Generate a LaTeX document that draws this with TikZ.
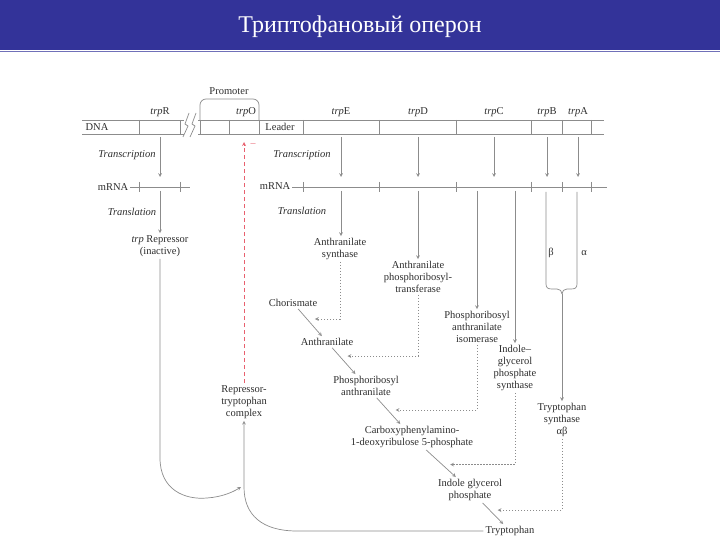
\documentclass[tikz,border=0pt]{standalone}
\usepackage{fontspec}
\setmainfont{Liberation Serif}
\usetikzlibrary{calc, positioning}

\definecolor{slideblue}{RGB}{51,51,153}
\definecolor{linegray}{RGB}{140,140,140}
\definecolor{textgray}{RGB}{45,45,45}
\definecolor{inhibred}{RGB}{232,96,110}

\begin{document}
\begin{tikzpicture}[x=1pt, y=-1pt, >=stealth,
  lbl/.style={font=\fontsize{10.5}{12}\selectfont, text=textgray, inner sep=2pt, align=center},
  proc/.style={lbl, font=\fontsize{10.5}{12}\selectfont\itshape},
  gene/.style={draw=linegray, line width=0.7pt},
  flow/.style={->, draw=linegray, line width=0.7pt},
  feed/.style={->, draw=linegray, line width=0.7pt, dash pattern=on 1.5pt off 1.5pt},
  repress/.style={->, draw=inhibred, line width=0.8pt, dash pattern=on 4pt off 3pt}]

  \useasboundingbox (0,0) rectangle (720,540);
  % title bar
  \fill[slideblue] (0,0) rectangle (720,50);
  \draw[slideblue!70, line width=1pt] (0,51.5) -- (720,51.5);
  \node[text=white, font=\fontsize{24}{28}\selectfont] (title) at (360,27) {Триптофановый оперон};

  % DNA strand with gene borders
  \draw[gene] (82,120) -- (184,120) (198,120) -- (604,120);
  \draw[gene] (82,134) -- (184,134) (198,134) -- (604,134);
  \foreach \x in {139,180,200,229,259,303,379,456,531,562,591}
    \draw[gene] (\x,120) -- (\x,134);
  % break in the strand
  \foreach \x in {186,193}
    \draw[gene] (\x+3,113) -- (\x-1,124) -- (\x+2,126) -- (\x-3,137);
  % promoter
  \draw[gene, rounded corners=6pt] (200,120) -- (200,99) -- (259,99) -- (259,120);
  \node[lbl] (prom) at (229,91) {Promoter};
  \node[lbl] (dna) at (97,127) {DNA};
  \node[lbl] (leader) at (280,127) {Leader};
  \foreach \n/\x in {R/160, O/246, E/341, D/418, C/494, B/547, A/578}
    \node[lbl] (trp\n) at (\x,112) {\textit{trp}\n};

  % mRNA
  \coordinate (dnab) at (0,137);
  \coordinate (mrnat) at (0,177);
  \coordinate (mrnab) at (0,191);
  \coordinate (mLend) at (190,187);
  \coordinate (mRend) at (607,187);
  \node[lbl] (mrnaL) at (113,187) {mRNA};
  \node[lbl] (mrnaR) at (275,186) {mRNA};
  \draw[gene] (mrnaL.east) -- (mLend);
  \draw[gene] (mrnaR.east |- mRend) -- (mRend);
  \foreach \x in {139,180,303,379,456,531,562,591}
    \draw[gene] (\x,182) -- (\x,192);

  % transcription
  \node[proc] (txL) at (127,155) {Transcription};
  \node[proc] (txR) at (302,155) {Transcription};
  \foreach \n in {R,E,D,C,B,A}
    \draw[flow] (trp\n |- dnab) -- (trp\n |- mrnat);

  % translation products
  \node[proc] (tlL) at (132,212) {Translation};
  \node[proc] (tlR) at (302,211) {Translation};
  \node[lbl] (rep) at (160,246) {\textit{trp} Repressor\\(inactive)};
  \node[lbl] (asyn) at (340,249) {Anthranilate\\synthase};
  \node[lbl] (aprt) at (418,277) {Anthranilate\\phosphoribosyl-\\transferase};
  \node[lbl] (prai) at (477,327) {Phosphoribosyl\\anthranilate\\isomerase};
  \node[lbl] (igps) at (515,368) {Indole–\\glycerol\\phosphate\\synthase};
  \node[lbl] (trpsyn) at (562,420) {Tryptophan\\synthase\\αβ};
  \draw[flow] (trpR |- mrnab) -- (trpR |- rep.north);
  \draw[flow] (trpE |- mrnab) -- (trpE |- asyn.north);
  \draw[flow] (trpD |- mrnab) -- (trpD |- aprt.north);
  \draw[flow] (prai.north |- mrnab) -- (prai.north);
  \draw[flow] (igps.north |- mrnab) -- (igps.north);

  % alpha and beta chains joined by a brace
  \coordinate (brace) at (562,294);
  \draw[gene] (546,192) -- (546,284) .. controls (546,288) and (548,289) .. (552,289)
    -- (557,289) .. controls (560,289) and (562,291) .. (brace);
  \draw[gene] (577,192) -- (577,284) .. controls (577,288) and (575,289) .. (571,289)
    -- (567,289) .. controls (564,289) and (562,291) .. (brace);
  \node[lbl] (beta) at (551,253) {β};
  \node[lbl] (alpha) at (584,253) {α};
  \draw[flow] (brace) -- (trpsyn.north);

  % biosynthetic pathway
  \node[lbl] (chor) at (293,303) {Chorismate};
  \node[lbl] (anth) at (327,342) {Anthranilate};
  \node[lbl] (pra) at (366,386) {Phosphoribosyl\\anthranilate};
  \node[lbl] (cdrp) at (412,437) {Carboxyphenylamino-\\1-deoxyribulose 5-phosphate};
  \node[lbl] (igp) at (470,490) {Indole glycerol\\phosphate};
  \node[lbl] (trp) at (510,531) {Tryptophan};
  \foreach \a/\b/\e/\f in {chor/anth/asyn/0.41, anth/pra/aprt/0.32, pra/cdrp/prai/0.47,
      cdrp/igp/igps/0.52, igp/trp/trpsyn/0.49} {
    \draw[flow] (\a) -- (\b);
    \draw[feed] (\e.south) |- ($(\a)!\f!(\b)+(8,0)$);
  }

  % repressor meets tryptophan
  \node[lbl] (cplx) at (244,402) {Repressor-\\tryptophan\\complex};
  \coordinate (join) at (241,487);
  \draw[flow] (rep.south) -- (160,458) .. controls (160,490) and (185,500) .. (207,498)
    .. controls (222,497) and (233,492) .. (join);
  \draw[flow] (trp.west) -- (297,531) .. controls (262,531) and (244,515) .. (244,487)
    -- (cplx.south);

  % repression of the operator
  \coordinate (opr) at (244,142);
  \draw[repress] (cplx.north) -- (opr);
  \node[text=inhibred, font=\fontsize{10}{12}\selectfont, inner sep=0pt] (minus) at (253,145) {–};
\end{tikzpicture}
\end{document}
